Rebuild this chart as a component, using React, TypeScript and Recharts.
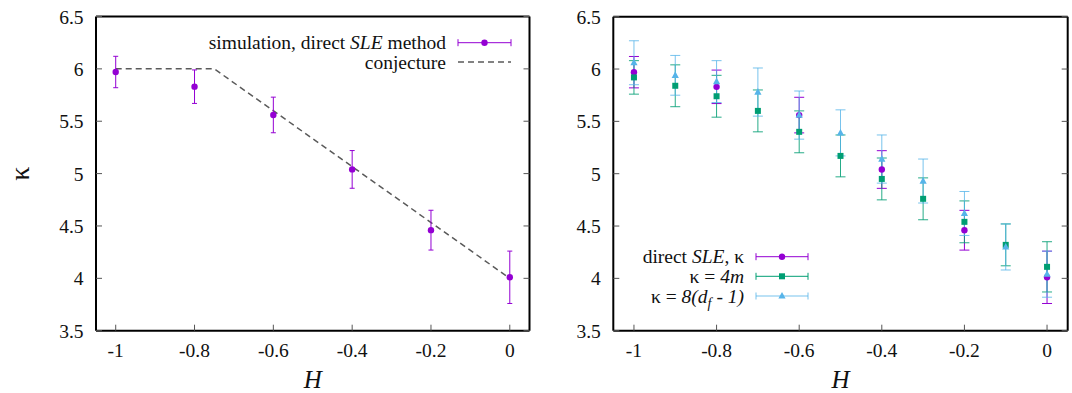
import {
  ComposedChart, Scatter, Line, XAxis, YAxis, ErrorBar, Legend, Label,
} from "recharts";

const FONT = '"Liberation Serif", "Times New Roman", serif';
const PURPLE = "#9400d3";
const GREEN = "#009e73";
const BLUE = "#56b4e9";
const GREY = "#5a5a5a";
const TICK = "#555";

// axes
const X_TICKS = [-1, -0.8, -0.6, -0.4, -0.2, 0];
const X_TICK_LABELS = ["-1", "-0.8", "-0.6", "-0.4", "-0.2", "0"];
const Y_TICKS = [3.5, 4, 4.5, 5, 5.5, 6, 6.5];
const Y_TICK_LABELS = ["3.5", "4", "4.5", "5", "5.5", "6", "6.5"];

// direct SLE method
const H_SLE = [-1, -0.8, -0.6, -0.4, -0.2, 0];
const KAPPA_SLE = [5.97, 5.83, 5.56, 5.04, 4.46, 4.01];
const ERR_SLE = [0.15, 0.16, 0.17, 0.18, 0.19, 0.25];

// conjecture
const H_CONJ = [-1, -0.75, 0];
const KAPPA_CONJ = [6, 6, 4];

// kappa = 4m and kappa = 8(d_f - 1)
const H_ALL = [-1, -0.9, -0.8, -0.7, -0.6, -0.5, -0.4, -0.3, -0.2, -0.1, 0];
const KAPPA_4M = [5.92, 5.84, 5.74, 5.6, 5.4, 5.17, 4.95, 4.76, 4.54, 4.32, 4.11];
const ERR_4M = [0.16, 0.2, 0.2, 0.2, 0.2, 0.2, 0.2, 0.2, 0.2, 0.2, 0.24];
const KAPPA_DF = [6.06, 5.94, 5.88, 5.78, 5.56, 5.39, 5.14, 4.93, 4.62, 4.3, 4.04];
const ERR_DF = [0.21, 0.19, 0.2, 0.23, 0.23, 0.22, 0.23, 0.21, 0.21, 0.22, 0.22];

const sleData = H_SLE.map((H, i) => ({ H, k: KAPPA_SLE[i], err: ERR_SLE[i] }));
const conjData = H_CONJ.map((H, i) => ({ H, k: KAPPA_CONJ[i] }));
const m4Data = H_ALL.map((H, i) => ({ H, k: KAPPA_4M[i], err: ERR_4M[i] }));
const dfData = H_ALL.map((H, i) => ({ H, k: KAPPA_DF[i], err: ERR_DF[i] }));

const X_DOMAIN = [-1.05, 0.05];
const Y_DOMAIN = [3.5, 6.5];

const txt = { fontFamily: FONT, fontSize: 19.5, fill: "#111" };

const BottomTick = (p: any) => (
  <g>
    <line x1={p.x} x2={p.x} y1={p.y} y2={p.y - 6} stroke={TICK} />
    <text x={p.x} y={p.y + 26} textAnchor="middle" {...txt}>
      {X_TICK_LABELS[X_TICKS.indexOf(p.payload.value)]}
    </text>
  </g>
);
const TopTick = (p: any) => (
  <line x1={p.x} x2={p.x} y1={p.y} y2={p.y + 6} stroke={TICK} />
);
const LeftTick = (p: any) => (
  <g>
    <line x1={p.x} x2={p.x + 6} y1={p.y} y2={p.y} stroke={TICK} />
    <text x={p.x - 12.5} y={p.y + 7} textAnchor="end" {...txt}>
      {Y_TICK_LABELS[Y_TICKS.indexOf(p.payload.value)]}
    </text>
  </g>
);
const RightTick = (p: any) => (
  <line x1={p.x} x2={p.x - 6} y1={p.y} y2={p.y} stroke={TICK} />
);

const dot = (p: any) => <circle cx={p.cx} cy={p.cy} r={3.2} fill={PURPLE} />;
const square = (p: any) => (
  <rect x={p.cx - 3} y={p.cy - 3} width={6} height={6} fill={GREEN} />
);
const triangle = (p: any) => (
  <polygon
    points={`${p.cx},${p.cy - 4} ${p.cx - 3.6},${p.cy + 2.6} ${p.cx + 3.6},${p.cy + 2.6}`}
    fill={BLUE}
  />
);

// each axis is 1px thick (recharts skips axes of size 0), margins below account for it
function frameAxes(showKappa: boolean) {
  return [
    <XAxis key="xb" xAxisId="b" type="number" dataKey="H" domain={X_DOMAIN}
      ticks={X_TICKS} height={1} tickSize={0} tickMargin={0} tickLine={false}
      axisLine={{ stroke: "#000", strokeWidth: 2 }} tick={<BottomTick />}
      allowDataOverflow interval={0}>
      <Label content={(p: any) => (
        <text x={p.viewBox.x + p.viewBox.width / 2} y={p.viewBox.y + 57}
          textAnchor="middle" fontFamily={FONT} fontSize={25} fontStyle="italic" fill="#111">H</text>
      )} />
    </XAxis>,
    <XAxis key="xt" xAxisId="t" orientation="top" type="number" domain={X_DOMAIN}
      ticks={X_TICKS} height={1} tickSize={0} tickMargin={0} tickLine={false}
      axisLine={{ stroke: "#000", strokeWidth: 2 }} tick={<TopTick />}
      allowDataOverflow interval={0} />,
    <YAxis key="yl" yAxisId="l" type="number" dataKey="k" domain={Y_DOMAIN}
      ticks={Y_TICKS} width={1} tickSize={0} tickMargin={0} tickLine={false}
      axisLine={{ stroke: "#000", strokeWidth: 2 }} tick={<LeftTick />}
      allowDataOverflow interval={0}>
      {showKappa && (
        <Label content={(p: any) => (
          <text x={20} y={p.viewBox.y + p.viewBox.height / 2}
            transform={`rotate(-90 20 ${p.viewBox.y + p.viewBox.height / 2})`}
            textAnchor="middle" dominantBaseline="central"
            fontFamily={FONT} fontSize={28} fill="#111">κ</text>
        )} />
      )}
    </YAxis>,
    <YAxis key="yr" yAxisId="r" orientation="right" type="number" domain={Y_DOMAIN}
      ticks={Y_TICKS} width={1} tickSize={0} tickMargin={0} tickLine={false}
      axisLine={{ stroke: "#000", strokeWidth: 2 }} tick={<RightTick />}
      allowDataOverflow interval={0} />,
  ];
}

function ErrSample({ x1, x2, y, color, opacity = 1 }: any) {
  return (
    <g stroke={color} strokeOpacity={opacity}>
      <line x1={x1} x2={x2} y1={y} y2={y} />
      <line x1={x1} x2={x1} y1={y - 3.5} y2={y + 3.5} />
      <line x1={x2} x2={x2} y1={y - 3.5} y2={y + 3.5} />
    </g>
  );
}

const LeftKey = () => (
  <svg width={540} height={80}>
    <text x={446} y={49} textAnchor="end" {...txt}>
      simulation, direct <tspan fontStyle="italic">SLE</tspan> method
    </text>
    <ErrSample x1={458} x2={511} y={42.7} color={PURPLE} />
    <circle cx={484.5} cy={42.7} r={3.2} fill={PURPLE} />
    <text x={446} y={68.5} textAnchor="end" {...txt}>conjecture</text>
    <line x1={458} x2={511} y1={62} y2={62} stroke={GREY} strokeWidth={1.5} strokeDasharray="6 4" />
  </svg>
);

const RightKey = () => (
  <svg width={532} height={393}>
    <text x={204} y={263.2} textAnchor="end" {...txt}>
      direct <tspan fontStyle="italic">SLE</tspan>, κ
    </text>
    <ErrSample x1={216} x2={268} y={256.7} color={PURPLE} />
    <circle cx={242} cy={256.7} r={3.2} fill={PURPLE} />
    <text x={204} y={282.8} textAnchor="end" {...txt}>
      κ = <tspan fontStyle="italic">4m</tspan>
    </text>
    <ErrSample x1={216} x2={268} y={276.3} color={GREEN} />
    <rect x={239} y={273.3} width={6} height={6} fill={GREEN} />
    <text x={204} y={302.5} textAnchor="end" {...txt}>
      κ = <tspan fontStyle="italic">8(d</tspan>
      <tspan fontStyle="italic" fontSize={14} dy={5}>f</tspan>
      <tspan fontStyle="italic" dy={-5}> - 1)</tspan>
    </text>
    <ErrSample x1={216} x2={268} y={296} color={BLUE} opacity={0.8} />
    <polygon points="242,292 238.4,298.6 245.6,298.6" fill={BLUE} />
  </svg>
);

export default function App() {
  return (
    <div style={{ position: "absolute", left: 0, top: 0, width: 1072, height: 393, background: "#fff" }}>
      <div style={{ position: "absolute", left: 0, top: 0 }}>
        <ComposedChart width={540} height={393}
          margin={{ top: 15.5, right: 9.5, bottom: 61.3, left: 95 }}>
          {frameAxes(true)}
          <Line data={conjData} xAxisId="b" yAxisId="l" dataKey="k" type="linear"
            stroke={GREY} strokeWidth={1.5} strokeDasharray="6 4" dot={false}
            activeDot={false} isAnimationActive={false} />
          <Scatter data={sleData} xAxisId="b" yAxisId="l" fill={PURPLE}
            shape={dot} isAnimationActive={false}>
            <ErrorBar dataKey="err" direction="y" width={2.5} stroke={PURPLE} strokeWidth={1} />
          </Scatter>
          <Legend layout="vertical" align="center" verticalAlign="middle"
            wrapperStyle={{ position: "absolute", left: 0, top: 0, width: 540, height: 80 }}
            content={() => <LeftKey />} />
        </ComposedChart>
      </div>
      <div style={{ position: "absolute", left: 540, top: 0 }}>
        <ComposedChart width={532} height={393}
          margin={{ top: 15.7, right: 3.3, bottom: 61.3, left: 72.3 }}>
          {frameAxes(false)}
          <Scatter data={sleData} xAxisId="b" yAxisId="l" fill={PURPLE}
            shape={dot} isAnimationActive={false}>
            <ErrorBar dataKey="err" direction="y" width={5} stroke={PURPLE} strokeWidth={1} />
          </Scatter>
          <Scatter data={m4Data} xAxisId="b" yAxisId="l" fill={GREEN}
            shape={square} isAnimationActive={false}>
            <ErrorBar dataKey="err" direction="y" width={5} stroke={GREEN} strokeWidth={1} strokeOpacity={0.85} />
          </Scatter>
          <Scatter data={dfData} xAxisId="b" yAxisId="l" fill={BLUE}
            shape={triangle} isAnimationActive={false}>
            <ErrorBar dataKey="err" direction="y" width={5} stroke={BLUE} strokeWidth={1} strokeOpacity={0.8} />
          </Scatter>
          <Legend layout="vertical" align="center" verticalAlign="middle"
            wrapperStyle={{ position: "absolute", left: 0, top: 0, width: 532, height: 393, pointerEvents: "none" }}
            content={() => <RightKey />} />
        </ComposedChart>
      </div>
    </div>
  );
}
